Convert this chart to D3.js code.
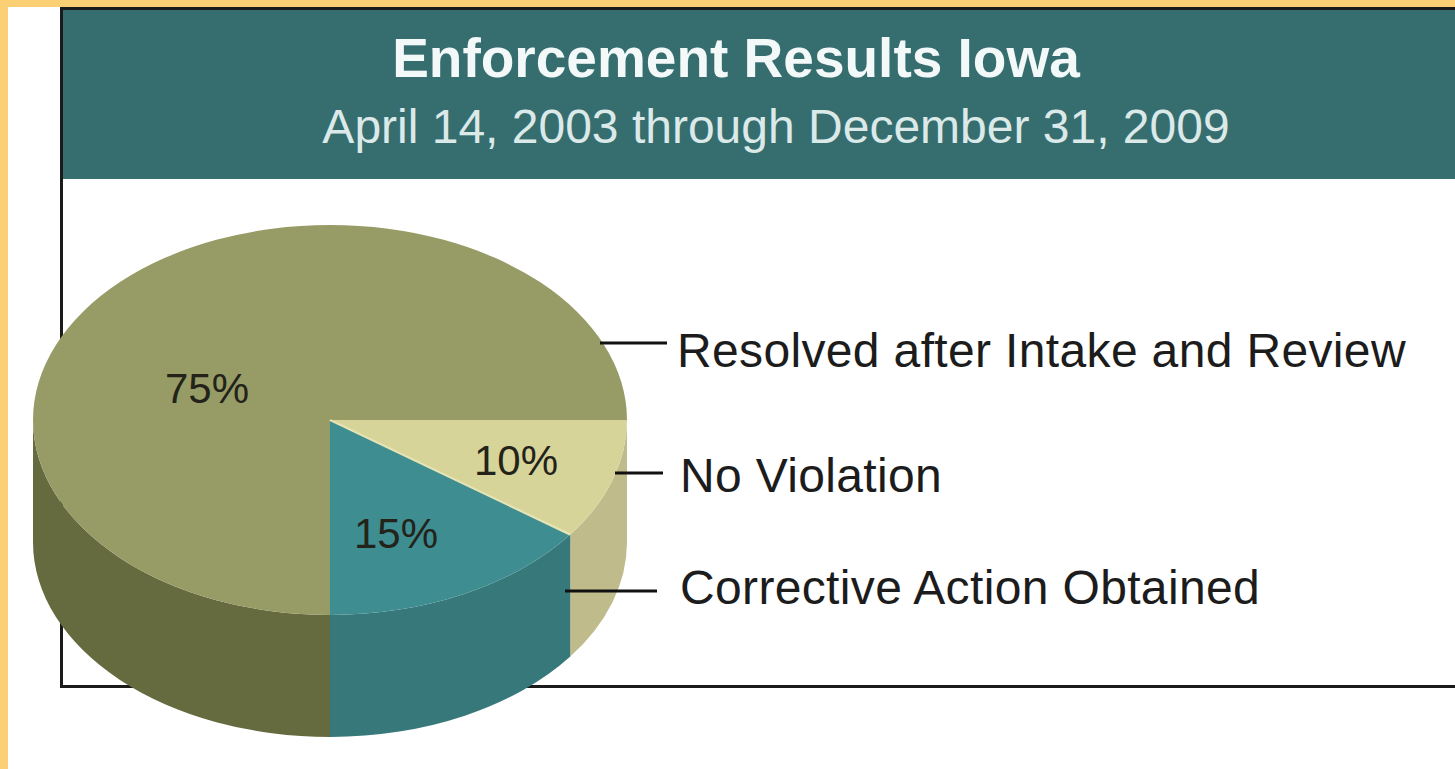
<!DOCTYPE html>
<meta charset="utf-8">
<style>
body { margin: 0; background: #fff; }
svg { display: block; }
text { font-family: "Liberation Sans", Arial, sans-serif; }
</style>
<svg width="1455" height="769"></svg>
<script src="https://d3js.org/d3.v7.min.js"></script>
<script>

// chart data, in drawing order going clockwise from 3 o'clock
var categories = ["No Violation", "Corrective Action Obtained", "Resolved after Intake and Review"];
var values = [10, 15, 75];
var pctLabels = ["10%", "15%", "75%"];
var title = "Enforcement Results Iowa";
var subtitle = "April 14, 2003 through December 31, 2009";

var topColors = ["#d7d49a", "#3e8d91", "#979c66"];
var sideColors = ["#c0bb8b", "#37797b", "#666b3f"];

var svg = d3.select("svg"),
    width = +svg.attr("width"),
    height = +svg.attr("height");

svg.append("rect").attr("width", width).attr("height", height).attr("fill", "#fff");

// yellow page edge
svg.append("rect").attr("x", 0).attr("y", 0).attr("width", 8).attr("height", height).attr("fill", "#fbcf73");
svg.append("rect").attr("x", 0).attr("y", 0).attr("width", width).attr("height", 7).attr("fill", "#fbcf73");

// frame + header
svg.append("rect")
    .attr("x", 61.5).attr("y", 8.5)
    .attr("width", 1500).attr("height", 678)
    .attr("fill", "#fff")
    .attr("stroke", "#1b1b1b")
    .attr("stroke-width", 3);

svg.append("rect")
    .attr("x", 63).attr("y", 10)
    .attr("width", 1500).attr("height", 169)
    .attr("fill", "#366e70");

svg.append("text")
    .attr("x", 736).attr("y", 77)
    .attr("text-anchor", "middle")
    .attr("font-size", 55)
    .attr("font-weight", "bold")
    .attr("fill", "#f3f8f8")
    .text(title);

svg.append("text")
    .attr("x", 776).attr("y", 143)
    .attr("text-anchor", "middle")
    .attr("font-size", 48)
    .attr("fill", "#dce9e9")
    .text(subtitle);

// 3d pie
var cx = 330, cy = 420, rx = 297, ry = 195, depth = 122;

var pie = d3.pie()
    .sort(null)
    .startAngle(Math.PI / 2)
    .endAngle(Math.PI / 2 + 2 * Math.PI);

var arcs = pie(values);
arcs.forEach(function(d, i) { d.i = i; });

function px(a) { return cx + rx * Math.sin(a); }
function py(a) { return cy - ry * Math.cos(a); }

// visible front wall of each slice (angles between pi/2 and 3pi/2)
function sidePath(d) {
    var a0 = Math.max(d.startAngle, Math.PI / 2),
        a1 = Math.min(d.endAngle, 3 * Math.PI / 2);
    if (a1 <= a0) return null;
    var large = (a1 - a0) > Math.PI ? 1 : 0;
    return "M" + px(a0) + "," + py(a0) +
        "A" + rx + "," + ry + " 0 " + large + " 1 " + px(a1) + "," + py(a1) +
        "L" + px(a1) + "," + (py(a1) + depth) +
        "A" + rx + "," + ry + " 0 " + large + " 0 " + px(a0) + "," + (py(a0) + depth) +
        "Z";
}

var g = svg.append("g");

g.selectAll("path.side")
    .data(arcs.filter(function(d) { return sidePath(d) !== null; }))
    .enter().append("path")
    .attr("class", "side")
    .attr("d", sidePath)
    .attr("fill", function(d) { return sideColors[d.i]; });

var arc = d3.arc().innerRadius(0).outerRadius(rx);

var topG = g.append("g")
    .attr("transform", "translate(" + cx + "," + cy + ") scale(1," + (ry / rx) + ")");

topG.selectAll("path.face")
    .data(arcs)
    .enter().append("path")
    .attr("class", "face")
    .attr("d", arc)
    .attr("fill", function(d) { return topColors[d.i]; });

// light edge along the no-violation slice
var ea = arcs[0].endAngle;
topG.append("line")
    .attr("x1", 0).attr("y1", 0)
    .attr("x2", rx * Math.sin(ea))
    .attr("y2", -rx * Math.cos(ea))
    .attr("stroke", "#e6e4b4")
    .attr("stroke-width", 3);

// percentage labels
var pctPos = [[516, 475], [396, 548], [207, 403]];
svg.selectAll("text.pct")
    .data(pctLabels)
    .enter().append("text")
    .attr("class", "pct")
    .attr("x", function(d, i) { return pctPos[i][0]; })
    .attr("y", function(d, i) { return pctPos[i][1]; })
    .attr("text-anchor", "middle")
    .attr("font-size", 42)
    .attr("fill", "#23231a")
    .text(function(d) { return d; });

// callouts
var callouts = [
    { x1: 615, x2: 663, y: 473, tx: 680, ty: 492 },
    { x1: 565, x2: 657, y: 591, tx: 680, ty: 604 },
    { x1: 600, x2: 667, y: 343, tx: 677, ty: 367 }
];

svg.selectAll("line.leader")
    .data(callouts)
    .enter().append("line")
    .attr("class", "leader")
    .attr("x1", function(d) { return d.x1; })
    .attr("x2", function(d) { return d.x2; })
    .attr("y1", function(d) { return d.y; })
    .attr("y2", function(d) { return d.y; })
    .attr("stroke", "#111")
    .attr("stroke-width", 3);

svg.selectAll("text.cat")
    .data(categories)
    .enter().append("text")
    .attr("class", "cat")
    .attr("x", function(d, i) { return callouts[i].tx; })
    .attr("y", function(d, i) { return callouts[i].ty; })
    .attr("font-size", 48)
    .attr("letter-spacing", 0.35)
    .attr("fill", "#1c1c1c")
    .text(function(d) { return d; });

</script>
